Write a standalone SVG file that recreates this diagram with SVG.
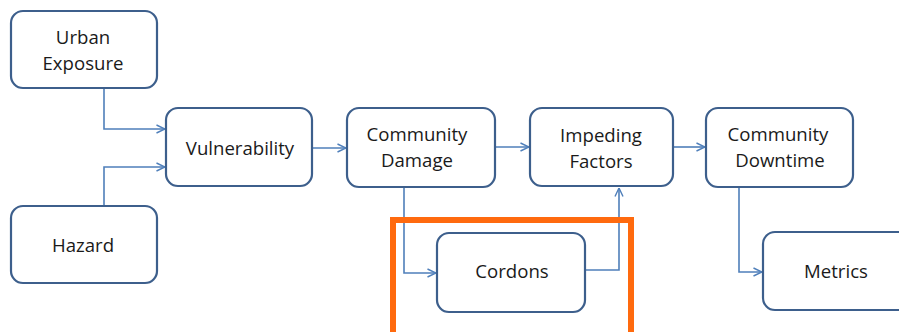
<svg xmlns="http://www.w3.org/2000/svg" width="899" height="332" viewBox="0 0 899 332">
<defs>
<style>
.box{fill:#fff;stroke:#3d5f8c;stroke-width:2.2}
.t{font-family:"Open Sans","Liberation Sans",sans-serif;font-size:18.6px;fill:#1a1a1a;text-anchor:middle;dominant-baseline:central}
.c{fill:none;stroke:#4f7fba;stroke-width:1.6;marker-end:url(#a)}
</style>
<marker id="a" viewBox="0 0 10 10" refX="9.5" refY="5" markerWidth="10" markerHeight="10" markerUnits="userSpaceOnUse" orient="auto">
<path d="M1,1 L9.5,5 L1,9" fill="none" stroke="#4f7fba" stroke-width="1.4"/>
</marker>
</defs>
<rect width="899" height="332" fill="#fff"/>
<g id="connectors">
<path class="c" d="M104,88 V129 H165"/>
<path class="c" d="M104,206 V167 H165"/>
<path class="c" d="M312,148 H346"/>
<path class="c" d="M495,147 H529"/>
<path class="c" d="M673,147 H705"/>
<path class="c" d="M404,187 V273 H436"/>
<path class="c" d="M585,270 H619 V188"/>
<path class="c" d="M739,187 V272 H762"/>
</g>
<g id="urban-exposure"><rect class="box" x="11" y="11" width="146" height="77" rx="12"/><text class="t" x="83" y="36">Urban</text><text class="t" x="83" y="62">Exposure</text></g>
<g id="hazard"><rect class="box" x="11" y="206" width="146" height="77" rx="12"/><text class="t" x="83" y="244">Hazard</text></g>
<g id="vulnerability"><rect class="box" x="166" y="108" width="146" height="78" rx="12"/><text class="t" x="240" y="147">Vulnerability</text></g>
<g id="community-damage"><rect class="box" x="347" y="108" width="148" height="79" rx="12"/><text class="t" x="417" y="133">Community</text><text class="t" x="417" y="159">Damage</text></g>
<g id="impeding-factors"><rect class="box" x="530" y="108" width="143" height="78" rx="12"/><text class="t" x="601" y="134">Impeding</text><text class="t" x="601" y="160">Factors</text></g>
<g id="community-downtime"><rect class="box" x="706" y="108" width="147" height="79" rx="12"/><text class="t" x="778" y="133">Community</text><text class="t" x="780" y="159">Downtime</text></g>
<g id="cordons"><rect class="box" x="437" y="233" width="148" height="79" rx="12"/><text class="t" x="512" y="270">Cordons</text></g>
<g id="metrics"><rect class="box" x="763" y="232" width="150" height="78" rx="12"/><text class="t" x="836" y="270">Metrics</text></g>
<g id="highlight"><rect x="393" y="220" width="238" height="120" fill="none" stroke="#ff6a0e" stroke-width="6"/></g>
</svg>
